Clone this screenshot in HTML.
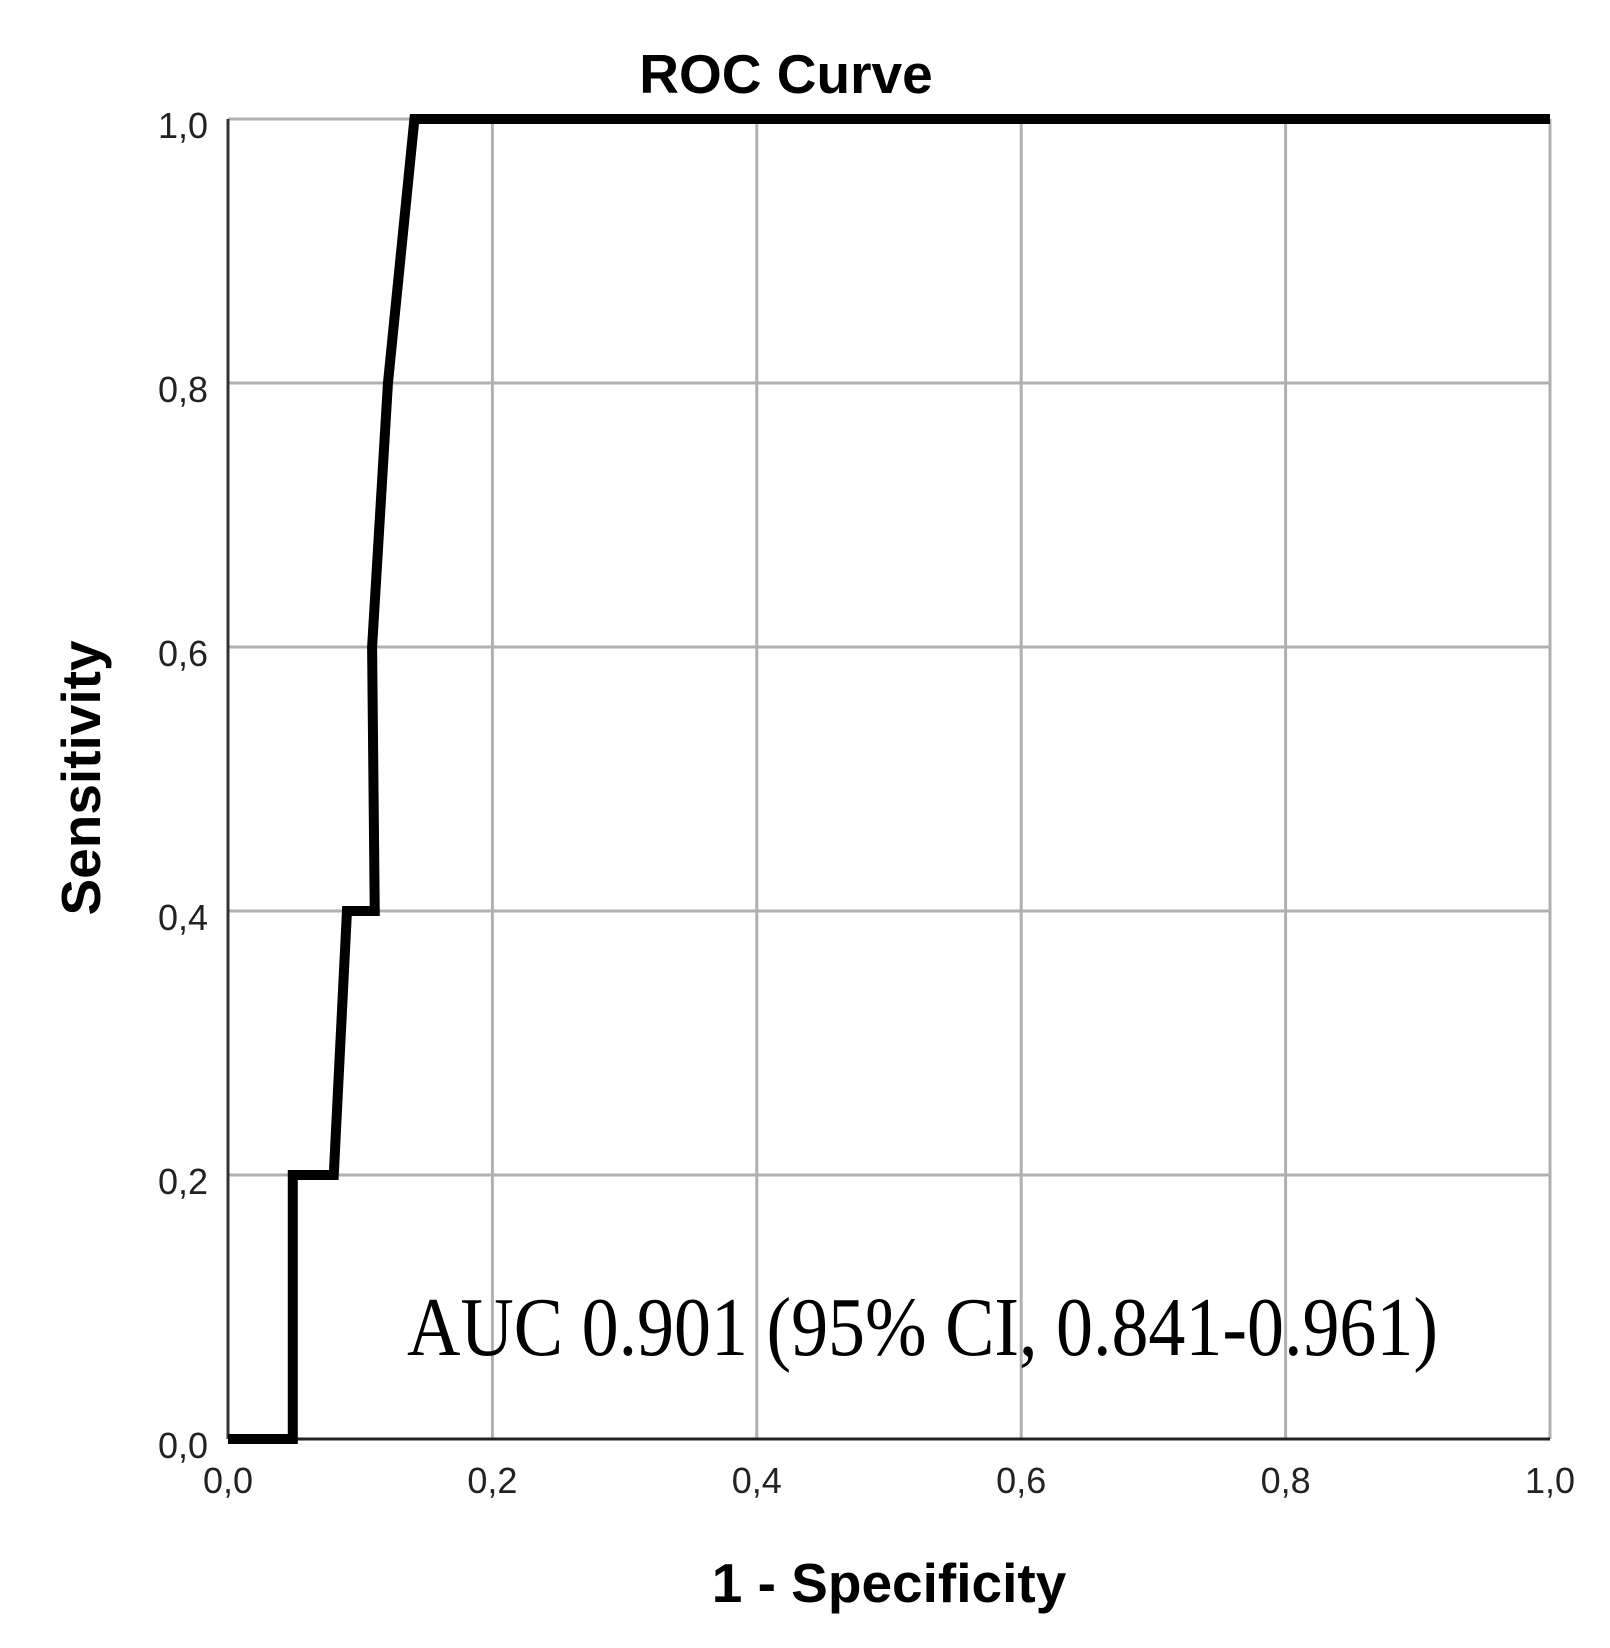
<!DOCTYPE html>
<html><head><meta charset="utf-8"><style>
html,body{margin:0;padding:0;background:#fff;}
svg{display:block;}
</style></head><body>
<svg id="chart" width="1610" height="1648" viewBox="0 0 1610 1648" xmlns="http://www.w3.org/2000/svg">
<rect width="1610" height="1648" fill="#fff"/>
<g id="grid"></g>
<g id="ticks"></g>
<g id="series"></g>
<text x="786" y="93" text-anchor="middle" font-family="Liberation Sans, sans-serif" font-weight="bold" font-size="55" fill="#000">ROC Curve</text>
<text x="889" y="1602" text-anchor="middle" font-family="Liberation Sans, sans-serif" font-weight="bold" font-size="55" fill="#000">1 - Specificity</text>
<text transform="translate(100,778) rotate(-90)" x="0" y="0" text-anchor="middle" font-family="Liberation Sans, sans-serif" font-weight="bold" font-size="55" fill="#000">Sensitivity</text>
<text x="407" y="1355" font-family="Liberation Serif, serif" font-size="84" fill="#000" textLength="1031" lengthAdjust="spacingAndGlyphs">AUC 0.901 (95% CI, 0.841-0.961)</text>
</svg>
<script>
const xTicks = [0, 0.2, 0.4, 0.6, 0.8, 1.0];
const yTicks = [0, 0.2, 0.4, 0.6, 0.8, 1.0];
const xTickLabels = ["0,0","0,2","0,4","0,6","0,8","1,0"];
const yTickLabels = ["0,0","0,2","0,4","0,6","0,8","1,0"];
const fpr = [0, 0.049, 0.049, 0.080, 0.090, 0.111, 0.109, 0.121, 0.141, 1.0];
const tpr = [0, 0, 0.2, 0.2, 0.4, 0.4, 0.6, 0.8, 1.0, 1.0];

const X0 = 228, X1 = 1550, Y0 = 1439, Y1 = 119;
const sx = v => X0 + v * (X1 - X0);
const sy = v => Y0 - v * (Y0 - Y1);
const NS = "http://www.w3.org/2000/svg";
const grid = document.getElementById('grid');
const ticks = document.getElementById('ticks');
const series = document.getElementById('series');
function mk(tag, attrs, parent){const e=document.createElementNS(NS,tag);for(const k in attrs)e.setAttribute(k,attrs[k]);parent.appendChild(e);return e;}

xTicks.forEach((v,i)=>{
  if(i>0){const l=mk('line',{x1:sx(v),x2:sx(v),y1:Y1,y2:Y0,stroke:'#b0b0b0','stroke-width':3},grid);
  
  }
  const t=mk('text',{x:sx(v),y:Y0+54,'text-anchor':'middle','font-family':'Liberation Sans, sans-serif','font-size':36,fill:'#222'},ticks);
  t.textContent=xTickLabels[i];
  
  
});
yTicks.forEach((v,i)=>{
  if(i>0){const l=mk('line',{x1:X0,x2:X1,y1:sy(v),y2:sy(v),stroke:'#b0b0b0','stroke-width':3},grid);
  
  }
  const t=mk('text',{x:X0-20,y:sy(v)+19,'text-anchor':'end','font-family':'Liberation Sans, sans-serif','font-size':36,fill:'#222'},ticks);
  t.textContent=yTickLabels[i];
  
  
});
const ya=mk('line',{x1:X0,x2:X0,y1:Y1,y2:Y0,stroke:'#333','stroke-width':3},grid);


const xa=mk('line',{x1:X0,x2:X1,y1:Y0,y2:Y0,stroke:'#222','stroke-width':3},grid);



const pts = fpr.map((v,i)=>sx(v)+','+sy(tpr[i])).join(' ');
const pl = mk('polyline',{points:pts,fill:'none',stroke:'#000','stroke-width':10,'stroke-linejoin':'miter','stroke-linecap':'butt'},series);


</script>
</body></html>
